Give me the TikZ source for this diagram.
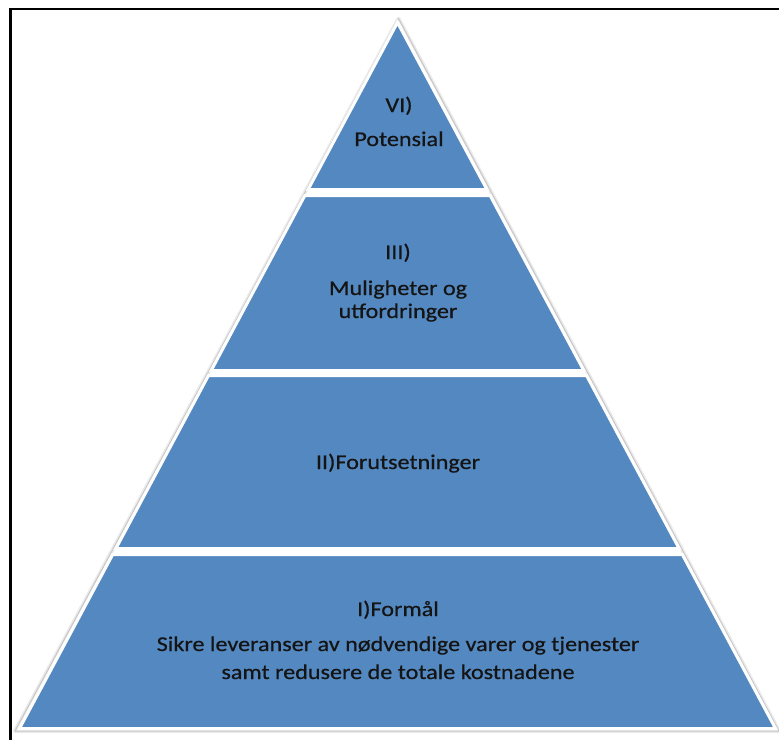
\documentclass[tikz,border=0pt]{standalone}
\usepackage{fontspec}
\setmainfont{Carlito}[FakeStretch=1.15,FakeBold=0.6]
\begin{document}
\begin{tikzpicture}[x=1pt,y=-1pt,
  layer/.style={fill=pyrblue,draw=white,line width=3pt,line join=miter},
  shade1/.style={draw=black!8,line width=4pt,line join=round},
  shade2/.style={draw=black!22,line width=1pt,line join=round},
  lbl/.style={anchor=base,inner sep=0pt,text=black!92,font=\fontsize{21}{24}\selectfont},
  frame/.style={draw=black,line width=2.8pt}]
\definecolor{pyrblue}{RGB}{83,136,192}
\useasboundingbox (0,0) rectangle (779,740);
\fill[white] (0,0) rectangle (779,740);

% outer frame, open at the right and bottom
\draw[frame] (10.5,740) -- (10.5,9) -- (779,9);

% soft outer shadow around the whole pyramid
\coordinate (sA) at (398.5,18.5);
\coordinate (sL) at (15,731);
\coordinate (sR) at (779,731);
\draw[shade1] (sA) -- (sL) -- (sR) -- cycle;
\draw[shade2] (sA) -- (sL) -- (sR) -- cycle;

% the four layers, top to bottom
\draw[layer] (397.5,22.5) -- (486.9,189.5) -- (308.1,189.5) -- cycle;
\draw[layer] (304.9,195.5) -- (490.1,195.5) -- (583.8,370.5) -- (211.2,370.5) -- cycle;
\draw[layer] (208.5,375.5) -- (586.5,375.5) -- (679.1,548.5) -- (115.9,548.5) -- cycle;
\draw[layer] (112.7,554.5) -- (682.3,554.5) -- (775.5,728.5) -- (19.5,728.5) -- cycle;

% labels
\node[lbl] (vi)    at (399,112) {VI)};
\node[lbl] (pot)   at (399,146) {Potensial};
\node[lbl] (iii)   at (398,259) {III)};
\node[lbl] (mul)   at (398,295) {Muligheter og};
\node[lbl] (utf)   at (398,318) {utfordringer};
\node[lbl] (ii)    at (398,469) {II)Forutsetninger};
\node[lbl] (i)     at (398,616) {I)Formål};
\node[lbl] (sik)   at (398,651) {Sikre leveranser av nødvendige varer og tjenester};
\node[lbl] (samt)  at (398,679) {samt redusere de totale kostnadene};
\end{tikzpicture}
\end{document}
